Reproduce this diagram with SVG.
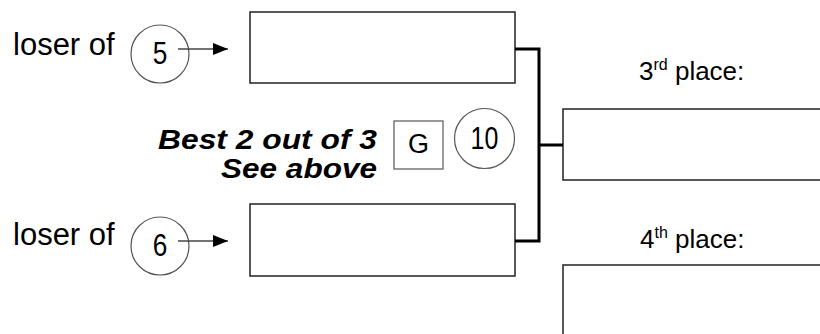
<svg xmlns="http://www.w3.org/2000/svg" width="820" height="334" viewBox="0 0 820 334">
<style>
  text { font-family: "Liberation Sans", Arial, sans-serif; fill: #000; }
  .lbl { font-size: 31px; }
  .num { font-size: 32px; text-anchor: middle; }
  .note { font-size: 28px; font-weight: bold; font-style: italic; text-anchor: end; }
  .place { font-size: 26px; }
  .sup { font-size: 16px; }
  .box { fill: #fff; stroke: #222; stroke-width: 1.5; }
  .circ { fill: #fff; stroke: #555; stroke-width: 1.2; }
  .gbox { fill: #fff; stroke: #555; stroke-width: 1.2; }
  .arrow { stroke: #444; stroke-width: 1.5; fill: none; }
  .bracket { stroke: #000; stroke-width: 3; fill: none; }
</style>
<defs>
  <marker id="ah" markerUnits="userSpaceOnUse" markerWidth="16" markerHeight="14" refX="15" refY="7" orient="auto">
    <polygon points="0,1 15,7 0,13" fill="#000"/>
  </marker>
</defs>
<rect width="820" height="334" fill="#fff"/>

<g id="label-top">
  <text class="lbl" x="13" y="55">loser of</text>
</g>
<g id="seed-5">
  <circle class="circ" cx="160" cy="54" r="29"/>
  <text class="num" transform="translate(160,64) scale(0.82,1)">5</text>
</g>
<g id="label-bottom">
  <text class="lbl" x="13" y="245">loser of</text>
</g>
<g id="seed-6">
  <circle class="circ" cx="160" cy="246" r="29"/>
  <text class="num" transform="translate(160,256) scale(0.82,1)">6</text>
</g>

<g id="match-top">
  <rect class="box" x="250" y="12" width="265" height="71"/>
</g>
<g id="match-bottom">
  <rect class="box" x="250" y="204" width="265" height="72"/>
</g>

<g id="note">
  <text class="note" x="377" y="149" textLength="219" lengthAdjust="spacingAndGlyphs">Best 2 out of 3</text>
  <text class="note" x="377" y="178" textLength="156" lengthAdjust="spacingAndGlyphs">See above</text>
</g>
<g id="game-G">
  <rect class="gbox" x="394" y="121" width="49" height="48"/>
  <text x="418.5" y="153" font-size="27" text-anchor="middle">G</text>
</g>
<g id="game-10">
  <circle class="circ" cx="484.5" cy="138.5" r="30"/>
  <text class="num" transform="translate(484.5,149) scale(0.78,1)">10</text>
</g>

<g id="third-place">
  <text class="place" x="639" y="80">3<tspan class="sup" dy="-10">rd</tspan><tspan dy="10"> place:</tspan></text>
  <rect class="box" x="563" y="109" width="270" height="71"/>
</g>
<g id="fourth-place">
  <text class="place" x="640" y="248">4<tspan class="sup" dy="-10">th</tspan><tspan dy="10"> place:</tspan></text>
  <rect class="box" x="563" y="265" width="270" height="90"/>
</g>

<g id="connectors">
  <line class="arrow" x1="178" y1="49" x2="228" y2="49" marker-end="url(#ah)"/>
  <line class="arrow" x1="178" y1="241" x2="228" y2="241" marker-end="url(#ah)"/>
  <polyline class="bracket" points="515,49 539,49 539,241 515,241"/>
  <line class="bracket" x1="539" y1="145" x2="563" y2="145"/>
</g>
</svg>
